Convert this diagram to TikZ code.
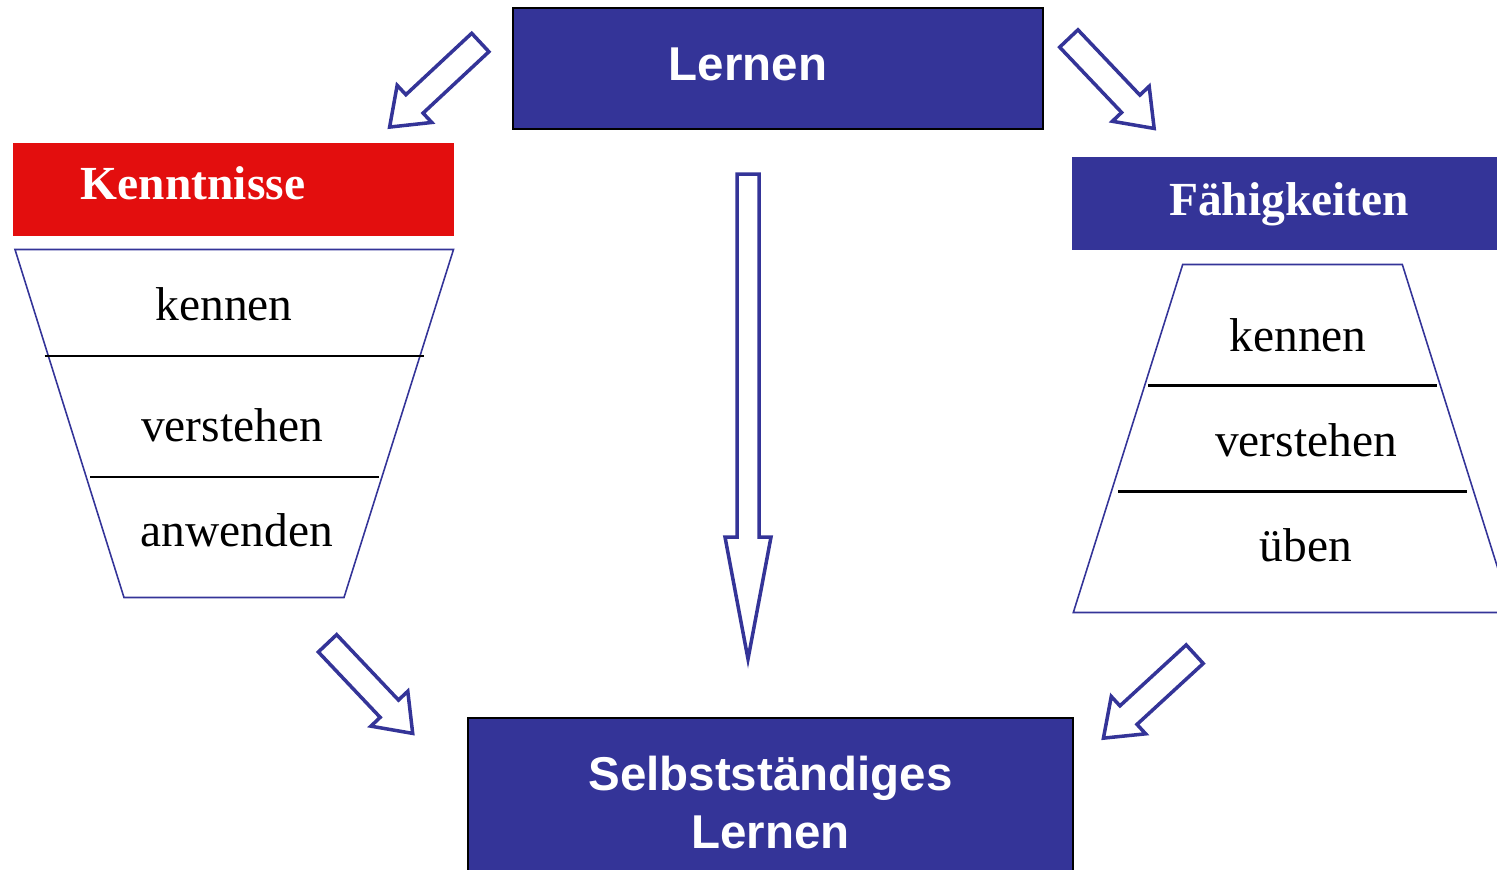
\documentclass[tikz,border=0pt]{standalone}
\usepackage{fontspec}
\setmainfont{Liberation Serif}
\newfontfamily\arialfont{Liberation Sans}

\definecolor{pptblau}{RGB}{52,52,152}
\definecolor{pptrot}{RGB}{227,14,14}

\tikzset{
  blaubox/.style={fill=pptblau, draw=black, line width=0.6pt, inner sep=0pt},
  titel/.style={text=white, font=\arialfont\bfseries\fontsize{13.5}{16.4}\selectfont, anchor=base, inner sep=0pt, align=center},
  kopf/.style={text=white, font=\bfseries\fontsize{13.5}{16.4}\selectfont, anchor=base, inner sep=0pt},
  stufe/.style={font=\fontsize{13.5}{16.4}\selectfont, anchor=base, inner sep=0pt},
  rand/.style={draw=pptblau, line width=0.45pt},
  trenner/.style={draw=black, line width=0.6pt},
  pfeil/.style={draw=pptblau, fill=white, line width=1pt, line join=miter}
}

% Blockpfeil: Fusspunkt (x,y) und Richtung in Grad
\newcommand{\blockpfeil}[3]{%
  \draw[pfeil, shift={(#1,#2)}, rotate=#3]
    (0,-12.6) -- (90,-12.6) -- (90,-25.4) -- (124,0) -- (90,25.4) -- (90,12.6) -- (0,12.6) -- cycle;}

\begin{document}
\begin{tikzpicture}[x=0.01cm, y=-0.01cm]
  % Rahmen des Bildes
  \path[use as bounding box] (0,0) rectangle (1497,869);
  \clip (0,0) rectangle (1497,869);

  % Kaesten
  \node[blaubox, minimum width=5.30cm, minimum height=1.21cm] (lernen) at (778,68.5) {};
  \node[titel] (lernenTxt) at (748,80) {Lernen};

  \node[fill=pptrot, inner sep=0pt, minimum width=4.41cm, minimum height=0.925cm] (kenntnisse) at (233.8,189.5) {};
  \node[kopf] (kenntnisseTxt) at (193,199.5) {Kenntnisse};

  \node[fill=pptblau, inner sep=0pt, minimum width=4.60cm, minimum height=0.93cm] (faehig) at (1302,203.5) {};
  \node[kopf] (faehigTxt) at (1289,215) {Fähigkeiten};

  \node[blaubox, minimum width=6.05cm, minimum height=1.90cm] (selbst) at (770.5,813) {};
  \node[titel] (selbstTxt) at (770.5,848) {Selbstständiges\\Lernen};

  % Trichter links
  \draw[rand] (15,249.5) -- (453.5,249.5) -- (344,597.5) -- (124,597.5) -- cycle;
  \draw[trenner] (44.5,356) -- (423.5,356);
  \draw[trenner] (90,477) -- (378.5,477);
  \node[stufe] (kKennen) at (224,320.5) {kennen};
  \node[stufe] (kVerstehen) at (232,441.5) {verstehen};
  \node[stufe] (kAnwenden) at (237,546.5) {anwenden};

  % Pyramide rechts
  \draw[rand] (1182.7,264.5) -- (1402.3,264.5) -- (1511.7,612.5) -- (1073.3,612.5) -- cycle;
  \draw[trenner] (1148,385.5) -- (1436.5,385.5);
  \draw[trenner] (1118,491.5) -- (1467,491.5);
  \node[stufe] (fKennen) at (1298,351) {kennen};
  \node[stufe] (fVerstehen) at (1306,456) {verstehen};
  \node[stufe] (fUeben) at (1306,561.5) {üben};

  % Pfeile
  \blockpfeil{480.3}{42.5}{223}
  \blockpfeil{1068.8}{38.5}{-46.5}
  \blockpfeil{327.5}{643.3}{-46.6}
  \blockpfeil{1194.7}{654.2}{222.6}
  \draw[pfeil] (737,174) -- (759,174) -- (759,537) -- (771,537) -- (748,659) -- (725,537) -- (737,537) -- cycle;
\end{tikzpicture}
\end{document}
